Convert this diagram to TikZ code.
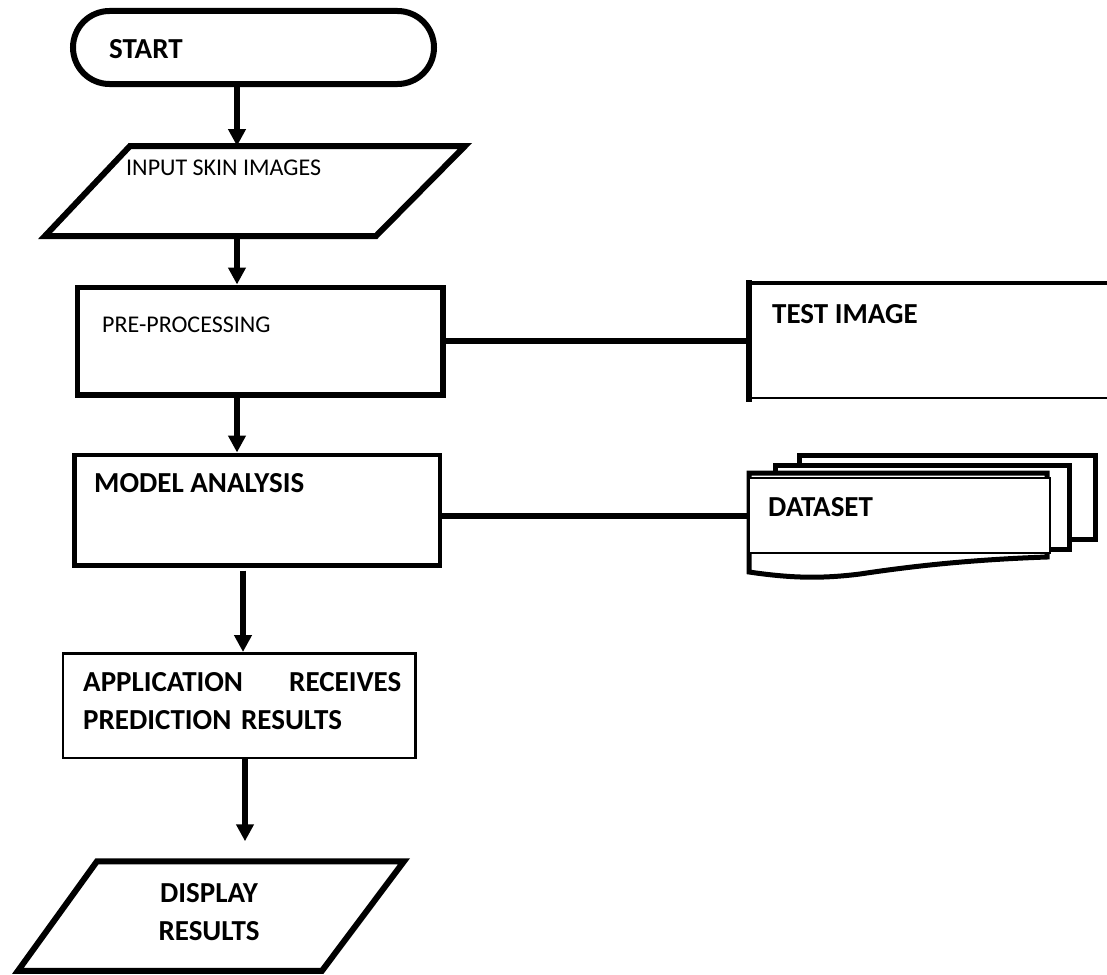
\documentclass[tikz,border=0pt]{standalone}
\usepackage{fontspec}
\setmainfont{Carlito}
\usetikzlibrary{
  arrows.meta,
  shapes.misc,
  positioning,
  calc
}
\tikzset{
  fcbox/.style={draw, inner sep=0pt, anchor=north west},
  terminal/.style={draw, rounded rectangle, inner sep=0pt, line width=6pt},
  iospan/.style={inner sep=0pt, outer sep=0pt},
  io/.style={line width=6pt, line join=miter},
  procbox/.style={fcbox, line width=5.5pt},
  page/.style={fcbox, fill=white, line width=5pt},
  flow/.style={-{Triangle[length=17pt,width=17pt]}, line width=6.5pt},
  link/.style={line width=6pt},
  lbl/.style={anchor=base west, inner sep=0pt, font=\fontsize{29}{38}\selectfont\bfseries},
  lblreg/.style={lbl, font=\fontsize{24}{28}\selectfont}
}
\begin{document}
\begin{tikzpicture}[x=1pt, y=-1pt]
  \clip (0,0) rectangle (1107,974);
  \fill[white] (0,0) rectangle (1107,974);
  \coordinate (spine) at (237,0);
  \coordinate (spineb) at (243,0);
  \coordinate (spinec) at (245,0);

  % main column
  \node[terminal, minimum width=361pt, minimum height=73pt] (start) at (253.5,47.5) {};
  \node[iospan, minimum width=420pt, minimum height=90pt] (inp) at (255,191) {};
  \draw[io] (inp.south west) -- ([xshift=85pt]inp.north west) -- (inp.north east)
    -- ([xshift=-89pt]inp.south east) -- cycle;
  \node[procbox, minimum width=365.5pt, minimum height=107.5pt] (pre) at (74.5,284.5) {};
  \node[procbox, line width=4.5pt, minimum width=365.5pt, minimum height=110.5pt] (model) at (72,452.5) {};
  \node[fcbox, line width=2.5pt, minimum width=352.5pt, minimum height=104.5pt] (app) at (61.5,652) {};
  \node[iospan, minimum width=386pt, minimum height=109.5pt] (disp) at (211,916) {};
  \draw[io] (disp.south west) -- ([xshift=79pt]disp.north west) -- (disp.north east)
    -- ([xshift=-82pt]disp.south east) -- cycle;

  % side stores
  \node[fcbox, line width=2pt, minimum width=420pt, minimum height=114pt] (test) at (749,283) {};
  \draw[line width=6pt, line cap=rect] (test.south west) -- (test.north west);
  \draw[line width=4pt] (test.north west) -- (test.north east);
  \node[page, minimum width=296pt, minimum height=84pt] (dsback) at (797,453) {};
  \node[page, minimum width=294pt, minimum height=84pt] (dsmid) at (773,463) {};
  \draw[line width=5pt, fill=white] (749,473) -- (1047,473) -- (1047,557)
    .. controls (960,560) and (900,568) .. (860,574)
    .. controls (820,579) and (790,578) .. (749,572) -- cycle;
  \node[fcbox, fill=white, line width=2pt, minimum width=301pt, minimum height=75pt] (dset) at (748,477) {};

  % labels
  \node[lbl] (starttxt) at (109,59) {START};
  \node[lblreg] (inptxt) at (126,175) {INPUT SKIN IMAGES};
  \node[lblreg] (pretxt) at (102,332) {PRE-PROCESSING};
  \node[lbl] (testtxt) at (772,323) {TEST IMAGE};
  \node[lbl] (modeltxt) at (94,492) {MODEL ANALYSIS};
  \node[lbl] (dsettxt) at (768,516) {DATASET};
  \node[lbl, text width=318pt, align=left] (apptxt) at (83,691)
    {APPLICATION\hfill RECEIVES\\PREDICTION RESULTS};
  \node[lbl, anchor=base, align=center] (disptxt) at (209,940) {DISPLAY\\RESULTS};

  % connectors
  \draw[flow] (start.south -| spine) -- (inp.north -| spine);
  \draw[flow, shorten <=3pt] (inp.south -| spine) -- (pre.north -| spine);
  \draw[flow] (pre.south -| spine) -- (model.north -| spine);
  \draw[flow, shorten <=3pt] (model.south -| spineb) -- (app.north -| spineb);
  \draw[flow, shorten >=20pt] (app.south -| spinec) -- (disp.north -| spinec);
  \draw[link] (pre.east) -- (pre.east -| test.west);
  \draw[link] (model.east |- dset.west) -- (dset.west);
\end{tikzpicture}
\end{document}
